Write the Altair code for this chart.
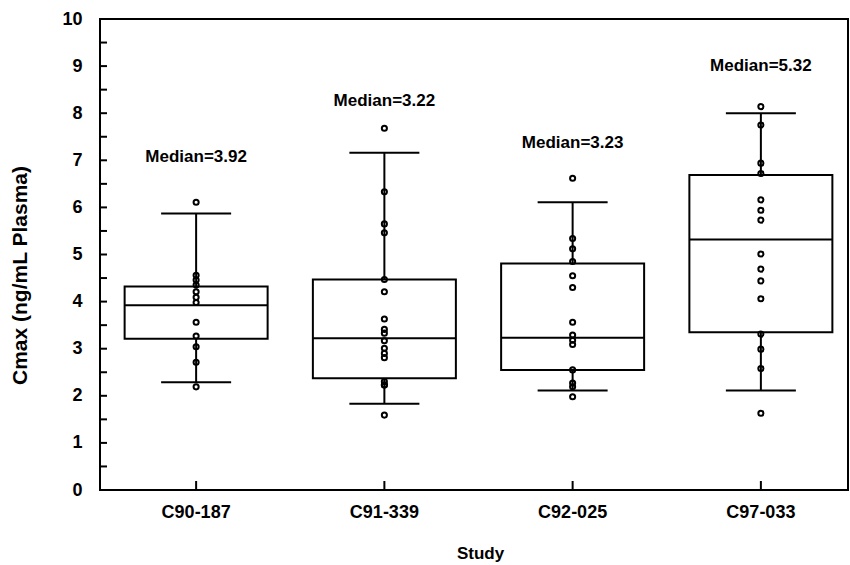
import altair as alt
import pandas as pd

# ---- data ----
studies = ["C90-187", "C91-339", "C92-025", "C97-033"]
whisker_low = [2.29, 1.83, 2.11, 2.11]
q1 = [3.21, 2.37, 2.55, 3.35]
median = [3.92, 3.22, 3.23, 5.32]
q3 = [4.32, 4.47, 4.81, 6.69]
whisker_high = [5.87, 7.16, 6.11, 8.00]
label_y = [7.07, 8.26, 7.37, 9.00]

pts_c90_187 = [6.11, 4.56, 4.46, 4.35, 4.21, 4.09, 3.98, 3.56, 3.27, 3.04, 2.71, 2.19]
pts_c91_339 = [7.68, 6.33, 5.65, 5.46, 4.47, 4.21, 3.63, 3.41, 3.33, 3.17, 3.01, 2.90,
               2.81, 2.30, 2.23, 2.23, 1.59]
pts_c92_025 = [6.62, 5.34, 5.12, 4.85, 4.55, 4.30, 3.56, 3.29, 3.18, 3.09, 2.55, 2.27,
               2.19, 1.98]
pts_c97_033 = [8.14, 7.75, 6.94, 6.72, 6.16, 5.94, 5.73, 5.01, 4.69, 4.44, 4.06, 3.31,
               2.99, 2.58, 1.63]

y_ticks = [0, 0.5, 1, 1.5, 2, 2.5, 3, 3.5, 4, 4.5, 5, 5.5, 6, 6.5, 7, 7.5, 8, 8.5,
           9, 9.5, 10]
y_labels = [0, 1, 2, 3, 4, 5, 6, 7, 8, 9, 10]

# ---- tables ----
box_df = pd.DataFrame({
    "study": studies,
    "wlo": whisker_low,
    "q1": q1,
    "median": median,
    "q3": q3,
    "whi": whisker_high,
    "label_y": label_y,
    "label": [f"Median={m:.2f}" for m in median],
})

pts_map = {
    "C90-187": pts_c90_187,
    "C91-339": pts_c91_339,
    "C92-025": pts_c92_025,
    "C97-033": pts_c97_033,
}
pts_df = pd.DataFrame(
    [{"study": s, "value": v} for s, vals in pts_map.items() for v in vals]
)
tick_df = pd.DataFrame({"v": y_ticks})

FONT = "Liberation Sans"
W, H = 748, 471
YTITLE = "Cmax (ng/mL Plasma)"

xscale = alt.Scale(type="band", domain=studies, range=[2, 755],
                   paddingInner=0, paddingOuter=0)
yscale = alt.Scale(domain=[0, 10], nice=False, zero=True)

xaxis = alt.Axis(
    title="Study", labelAngle=0, labelPadding=27, labelBaseline="alphabetic",
    titleX=380, titleY=68, titleBaseline="alphabetic", titleAlign="center",
    titleFontSize=17,
)
yaxis = alt.Axis(
    values=y_labels, labelPadding=18, format="d",
    titleAngle=270, titleX=-74, titleY=256, titleAlign="center",
    titleBaseline="alphabetic", titleFontSize=21,
)


def X():
    return alt.X("study:N", scale=xscale, axis=xaxis, sort=studies)


def Y(field):
    return alt.Y(field, type="quantitative", scale=yscale, axis=yaxis, title=YTITLE)


base = alt.Chart(box_df)

whisker = base.mark_rule(color="black", strokeWidth=2).encode(
    x=X(), y=Y("wlo"), y2="whi"
)
box = base.mark_bar(size=143, fill="white", stroke="black", strokeWidth=2).encode(
    x=X(), y=Y("q1"), y2="q3"
)
med = base.mark_tick(size=143, thickness=2, color="black", opacity=1).encode(
    x=X(), y=Y("median")
)
cap_lo = base.mark_tick(size=70, thickness=2, color="black", opacity=1).encode(
    x=X(), y=Y("wlo")
)
cap_hi = base.mark_tick(size=70, thickness=2, color="black", opacity=1).encode(
    x=X(), y=Y("whi")
)
points = alt.Chart(pts_df).mark_point(
    shape="circle", filled=False, size=26, strokeWidth=2, color="black", opacity=1
).encode(x=X(), y=Y("value"))

labels = base.mark_text(
    font=FONT, fontWeight="bold", fontSize=17, color="black",
    align="center", baseline="middle"
).encode(x=X(), y=Y("label_y"), text="label:N")

yticks = alt.Chart(tick_df).mark_rule(color="black", strokeWidth=2).encode(
    y=Y("v"), x=alt.value(0), x2=alt.value(7)
)
xticks = base.mark_rule(color="black", strokeWidth=2).encode(
    x=X(), y=alt.value(H), y2=alt.value(H - 9)
)

chart = alt.layer(
    whisker, box, med, cap_lo, cap_hi, points, labels, yticks, xticks
).properties(
    width=W, height=H,
    autosize=alt.AutoSizeParams(type="none"),
    padding={"left": 100, "top": 19, "right": 2, "bottom": 75},
    background="white",
).configure_view(
    stroke="black", strokeWidth=2
).configure_axis(
    labelFont=FONT, labelFontWeight="bold", labelFontSize=18, labelColor="black",
    titleFont=FONT, titleFontWeight="bold", titleColor="black",
    domain=False, ticks=False, grid=False,
)

chart.save("out.html", embed_options={"renderer": "svg", "actions": False})
